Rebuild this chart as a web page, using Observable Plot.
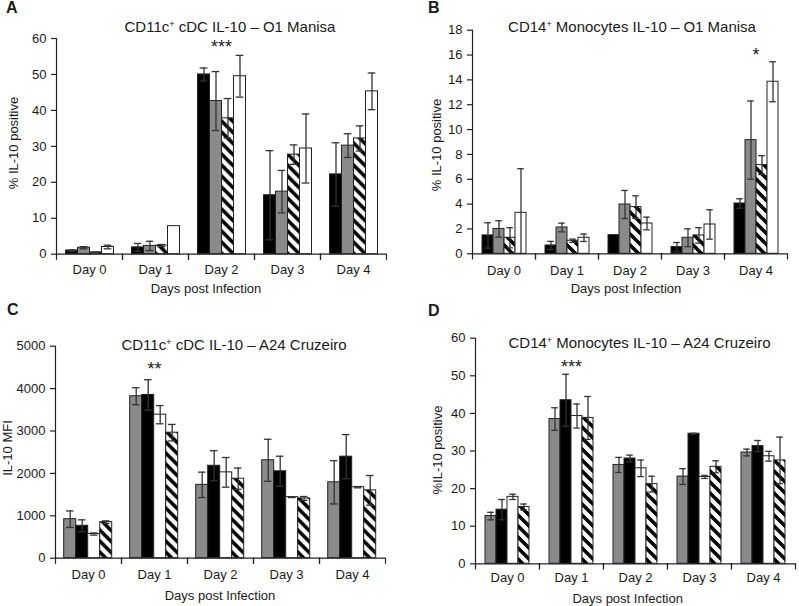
<!DOCTYPE html>
<html>
<head>
<meta charset="utf-8">
<script src="https://cdn.jsdelivr.net/npm/d3@7"></script>
<script src="https://cdn.jsdelivr.net/npm/@observablehq/plot@0.6"></script>
<style>
html,body{margin:0;padding:0;background:#fff;}
#root{position:relative;width:799px;height:606px;overflow:hidden;font-family:"Liberation Sans",Arial,Helvetica,sans-serif;color:#1a1a1a;}
#root svg{position:absolute;}
.lbl{position:absolute;white-space:nowrap;line-height:1;}
.sp{font-size:0.6em;position:relative;top:-0.55em;}
</style>
</head>
<body>
<div id="root"></div>
<script>
// ---------- data ----------
const days = ["Day 0", "Day 1", "Day 2", "Day 3", "Day 4"];
const groups = ["Group 1", "Group 2", "Group 3", "Group 4"];

// Panel A: CD11c+ cDC IL-10 – O1 Manisa (% IL-10 positive)
const A1 = [1.0, 1.9, 50.0, 16.4, 22.2], A1e = [0.2, 1.1, 1.8, 12.4, 8.8];
const A2 = [1.8, 2.3, 42.6, 17.4, 30.2], A2e = [0.3, 1.3, 8.2, 5.9, 3.3];
const A3 = [0.5, 2.4, 37.8, 27.7, 32.2], A3e = [0.1, 0.3, 5.5, 2.7, 3.5];
const A4 = [2.0, 7.8, 49.5, 29.4, 45.3], A4e = [0.5, 0, 5.8, 9.6, 5.1];
const yTicksA = [0, 10, 20, 30, 40, 50, 60];
const starA = {day: "Day 2", text: "***"};

// Panel B: CD14+ Monocytes IL-10 – O1 Manisa (% IL-10 positive)
const B1 = [1.48, 0.67, 1.5, 0.54, 4.05], B1e = [1.02, 0.33, 0, 0.37, 0.38];
const B2 = [2.0, 2.12, 3.97, 1.29, 9.15], B2e = [0.66, 0.35, 1.13, 0.72, 3.15];
const B3 = [1.29, 1.05, 3.76, 1.48, 7.14], B3e = [0.81, 0.13, 0.91, 0.62, 0.76];
const B4 = [3.3, 1.29, 2.44, 2.36, 13.85], B4e = [3.55, 0.3, 0.51, 1.18, 1.61];
const yTicksB = [0, 2, 4, 6, 8, 10, 12, 14, 16, 18];
const starB = {day: "Day 4", text: "*"};

// Panel C: CD11c+ cDC IL-10 – A24 Cruzeiro (IL-10 MFI)
const C1 = [920, 3820, 1730, 2310, 1790], C1e = [195, 200, 300, 495, 510];
const C2 = [765, 3850, 2180, 2050, 2395], C2e = [140, 360, 355, 355, 520];
const C3 = [570, 3385, 2025, 1440, 1675], C3e = [25, 215, 350, 10, 15];
const C4 = [850, 2960, 1875, 1410, 1600], C4e = [30, 195, 250, 45, 350];
const yTicksC = [0, 1000, 2000, 3000, 4000, 5000];
const starC = {day: "Day 1", text: "**"};

// Panel D: CD14+ Monocytes IL-10 – A24 Cruzeiro (%IL-10 positive)
const D1 = [12.7, 38.5, 26.3, 23.2, 29.6], D1e = [1.0, 3.0, 2.0, 2.1, 0.9];
const D2 = [14.4, 43.5, 28.0, 34.6, 31.3], D2e = [2.7, 6.9, 0.9, 0.1, 1.5];
const D3 = [17.8, 39.3, 25.4, 23.1, 28.6], D3e = [0.7, 3.2, 2.2, 0.4, 1.3];
const D4 = [15.1, 38.8, 21.2, 25.8, 27.5], D4e = [0.8, 5.7, 2.1, 1.6, 6.2];
const yTicksD = [0, 10, 20, 30, 40, 50, 60];
const starD = {day: "Day 1", text: "***"};

// ---------- drawing ----------
const root = document.getElementById("root");
const GRAY = "#8a8a8a";

function rowsOf(means, errs) {
  const rows = [];
  groups.forEach((g, gi) => days.forEach((d, di) =>
    rows.push({day: d, group: g, v: means[gi][di], e: errs[gi][di]})));
  return rows;
}

function panel(cfg) {
  const rows = rowsOf(cfg.means, cfg.errs);
  const errRows = rows.filter(r => r.e > 0);
  const plotH = cfg.H - cfg.mt - cfg.mb;
  const hatchId = "hatch" + cfg.id;
  const fills = cfg.fills.map(f => f === "hatch" ? `url(#${hatchId})` : f);
  const starTop = d3.max(rows.filter(r => r.day === cfg.star.day), r => r.v + r.e);
  const yMax = cfg.yTicks[cfg.yTicks.length - 1];
  const svg = Plot.plot({
    width: cfg.W, height: cfg.H,
    marginLeft: cfg.ml, marginRight: cfg.mr, marginTop: cfg.mt, marginBottom: cfg.mb,
    style: {fontFamily: '"Liberation Sans", Arial, sans-serif', color: "#1a1a1a", background: "transparent", overflow: "visible"},
    fx: {domain: days, padding: 0},
    x: {domain: groups, paddingInner: 0, paddingOuter: 0.72, axis: null},
    y: {domain: [0, yMax]},
    color: {domain: groups, range: fills},
    marks: [
      Plot.barY(rows, {fx: "day", x: "group", y: "v", fill: "group", stroke: "#222", strokeWidth: 1}),
      Plot.ruleX(errRows, {fx: "day", x: "group", y1: r => Math.max(0, r.v - r.e), y2: r => r.v + r.e, stroke: "#333", strokeWidth: 1.3}),
      Plot.tickY(errRows, {fx: "day", x: "group", y: r => r.v + r.e, stroke: "#333", strokeWidth: 1.3, insetLeft: 2.2, insetRight: 2.2}),
      Plot.tickY(errRows.filter(r => r.v - r.e > 0), {fx: "day", x: "group", y: r => r.v - r.e, stroke: "#333", strokeWidth: 1.3, insetLeft: 2.2, insetRight: 2.2}),
      Plot.ruleY([0], {stroke: "#222", strokeWidth: 1.2}),
      Plot.frame({anchor: "left", facetAnchor: "left", stroke: "#222", strokeWidth: 1.2}),
      Plot.frame({anchor: "left", insetTop: plotH, insetBottom: -5, stroke: "#222", strokeWidth: 1.2}),
      Plot.frame({anchor: "right", insetTop: plotH, insetBottom: -5, stroke: "#222", strokeWidth: 1.2}),
      Plot.axisY({ticks: cfg.yTicks, tickFormat: d => String(d), tickSize: 5, tickPadding: 5, fontSize: 13, label: null, stroke: "#222", strokeWidth: 1.2}),
      Plot.axisFx({anchor: "bottom", tickSize: 0, tickPadding: cfg.xPad, fontSize: 13, label: null}),
      Plot.text([cfg.star], {fx: "day", y: () => starTop, text: "text", fontSize: 18, dy: cfg.starDy, fill: "#222"})
    ]
  });
  const defs = document.createElementNS("http://www.w3.org/2000/svg", "defs");
  defs.innerHTML = `<pattern id="${hatchId}" patternUnits="userSpaceOnUse" width="11" height="11"><rect width="11" height="11" fill="#fff"/><path d="M-3,-3L14,14M-3,8L3,14M8,-3L14,3" stroke="#000" stroke-width="3.6"/></pattern>`;
  svg.insertBefore(defs, svg.firstChild);
  svg.style.left = cfg.left + "px";
  svg.style.top = cfg.top + "px";
  root.appendChild(svg);
}

panel({id: "A", means: [A1, A2, A3, A4], errs: [A1e, A2e, A3e, A4e], fills: ["#000", GRAY, "hatch", "#fff"],
  yTicks: yTicksA, star: starA, starDy: -7.7,
  left: 0, top: 0, W: 400, H: 300, ml: 54.5, mr: 12, mt: 38, mb: 46.3, xPad: 11});
panel({id: "B", means: [B1, B2, B3, B4], errs: [B1e, B2e, B3e, B4e], fills: ["#000", GRAY, "hatch", "#fff"],
  yTicks: yTicksB, star: starB, starDy: -6.8,
  left: 400, top: 0, W: 399, H: 300, ml: 70, mr: 10, mt: 29.7, mb: 46.7, xPad: 11.5});
panel({id: "C", means: [C1, C2, C3, C4], errs: [C1e, C2e, C3e, C4e], fills: [GRAY, "#000", "#fff", "hatch"],
  yTicks: yTicksC, star: starC, starDy: -10.5,
  left: 0, top: 300, W: 400, H: 306, ml: 53.3, mr: 13, mt: 45.7, mb: 48.3, xPad: 12});
panel({id: "D", means: [D1, D2, D3, D4], errs: [D1e, D2e, D3e, D4e], fills: [GRAY, "#000", "#fff", "hatch"],
  yTicks: yTicksD, star: starD, starDy: -6.8,
  left: 400, top: 300, W: 399, H: 306, ml: 73, mr: 2, mt: 37.7, mb: 42.7, xPad: 9});

// ---------- text ----------
function label(html, x, baseline, fs, opts = {}) {
  const el = document.createElement("div");
  el.className = "lbl";
  el.innerHTML = html;
  el.style.fontSize = fs + "px";
  el.style.top = (baseline - 0.8465 * fs) + "px";
  el.style.left = x + "px";
  if (opts.bold) el.style.fontWeight = "bold";
  if (opts.anchor !== "start") el.style.transform = "translateX(-50%)";
  root.appendChild(el);
}
function vlabel(text, cx, cy, fs) {
  const el = document.createElement("div");
  el.className = "lbl";
  el.textContent = text;
  el.style.fontSize = fs + "px";
  el.style.left = cx + "px";
  el.style.top = cy + "px";
  el.style.transform = "translate(-50%,-50%) rotate(-90deg)";
  root.appendChild(el);
}
const plus = '<span class="sp">+</span>';
label("A", 6, 13.5, 16, {bold: true, anchor: "start"});
label("B", 428, 13.5, 16, {bold: true, anchor: "start"});
label("C", 7, 315.5, 16, {bold: true, anchor: "start"});
label("D", 428, 316.5, 16, {bold: true, anchor: "start"});
label(`CD11c${plus} cDC IL-10 – O1 Manisa`, 230, 31.7, 15);
label(`CD14${plus} Monocytes IL-10 – O1 Manisa`, 632, 31.7, 15);
label(`CD11c${plus} cDC IL-10 – A24 Cruzeiro`, 234, 350, 15);
label(`CD14${plus} Monocytes IL-10 – A24 Cruzeiro`, 639.5, 347.3, 15);
label("Days post Infection", 206, 292.6, 13);
label("Days post Infection", 626, 292.6, 13);
label("Days post Infection", 220, 600.3, 13);
label("Days post Infection", 627.7, 602.6, 13);
vlabel("% IL-10 positive", 13, 143, 13);
vlabel("% IL-10 positive", 436, 145, 13);
vlabel("IL-10 MFI", 7, 448, 13);
vlabel("%IL-10 positive", 437, 450, 13);
</script>
</body>
</html>
